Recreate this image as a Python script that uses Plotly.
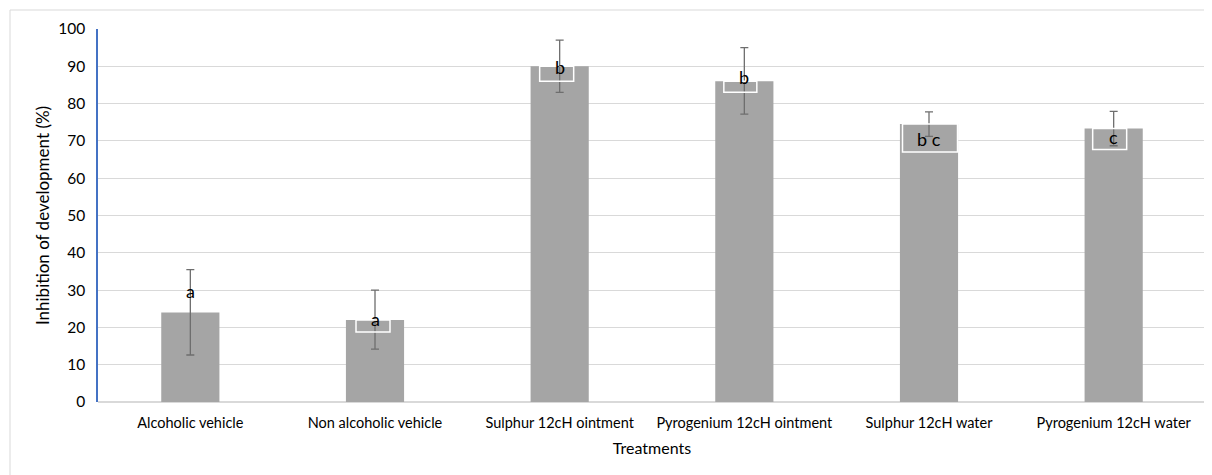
import plotly.graph_objects as go

categories = ["Alcoholic vehicle", "Non alcoholic vehicle", "Sulphur 12cH ointment",
              "Pyrogenium 12cH ointment", "Sulphur 12cH water", "Pyrogenium 12cH water"]
values = [24.0, 22.0, 90.0, 86.0, 74.5, 73.3]
err_plus = [11.5, 8.0, 7.0, 9.0, 3.3, 4.6]
err_minus = [11.4, 7.8, 7.0, 8.8, 3.3, 4.6]
letters = ["a", "a", "b", "b", "b c", "c"]

# label styling (pixel offsets / box sizes, layout only)
label_dy = [-21, -1, 1, -4, 15, 8]          # text centre relative to bar top (px, +down)
box_w = [0, 34, 34, 33, 55, 34]
box_h = [0, 12, 15, 11, 28, 21]
box_dx = [0, -2, -3, -4, 1, -4]

W, H = 1212, 475
OFF = 8  # page body offset
PL, PR, PT, PB = 98, 1206, 29, 402  # plot area in page pixels
L, T = PL - OFF, PT - OFF
R = W - (PR - OFF)
B = H - (PB - OFF)
PW, PH = PR - PL, PB - PT

def px(x):
    return (x - PL) / PW

def py(y):
    return (PB - y) / PH

fig = go.Figure()
fig.add_trace(go.Bar(
    x=list(range(len(categories))), y=values,
    marker=dict(color="#A5A5A5", line=dict(width=0)),
    error_y=dict(type="data", symmetric=False, array=err_plus, arrayminus=err_minus,
                 color="#6E6E6E", thickness=1.3, width=4),
    width=0.315, hoverinfo="skip",
))

font_family = "Lato, 'Open Sans', sans-serif"

for i, (v, lab) in enumerate(zip(values, letters)):
    if box_w[i] > 0:
        fig.add_shape(type="rect", xref="x", yref="y",
                      xsizemode="pixel", ysizemode="pixel",
                      xanchor=i, yanchor=v,
                      x0=box_dx[i] - box_w[i] / 2, x1=box_dx[i] + box_w[i] / 2,
                      y0=0, y1=-box_h[i],
                      line=dict(color="white", width=1.5), fillcolor="rgba(0,0,0,0)",
                      layer="above")
    fig.add_annotation(x=i, y=v, text=lab.replace(" ", "&nbsp;"), showarrow=False, yanchor="middle",
                       yshift=-label_dy[i],
                       font=dict(size=18, color="black", family=font_family))

# outer chart border
fig.add_shape(type="rect", xref="paper", yref="paper",
              x0=px(10), x1=px(1240), y0=py(500), y1=py(10),
              line=dict(color="#D9D9D9", width=1), layer="below")

fig.update_layout(
    width=W, height=H,
    margin=dict(l=L, r=R, t=T, b=B),
    paper_bgcolor="white", plot_bgcolor="white",
    showlegend=False,
    font=dict(family=font_family, color="#000000"),
    xaxis=dict(
        title=dict(text="Treatments", font=dict(size=16, color="#000000"), standoff=13),
        tickmode="array", tickvals=list(range(len(categories))), ticktext=categories,
        range=[-0.5, len(categories) - 0.5],
        tickfont=dict(size=14.5, color="#000000"), ticklabelstandoff=10,
        showgrid=False, showline=False, ticks="", zeroline=False,
    ),
    yaxis=dict(
        title=dict(text="Inhibition of development (%)", font=dict(size=17, color="#000000"), standoff=4),
        range=[0, 100], dtick=10, tickfont=dict(size=15.5, color="#000000"),
        showgrid=True, gridcolor="#D9D9D9", gridwidth=1,
        showline=True, linecolor="#4472C4", linewidth=1.5,
        zeroline=True, zerolinecolor="#D9D9D9", zerolinewidth=1.5,
        ticks="", ticklabelstandoff=8,
    ),
)

fig.write_html("out.html")
